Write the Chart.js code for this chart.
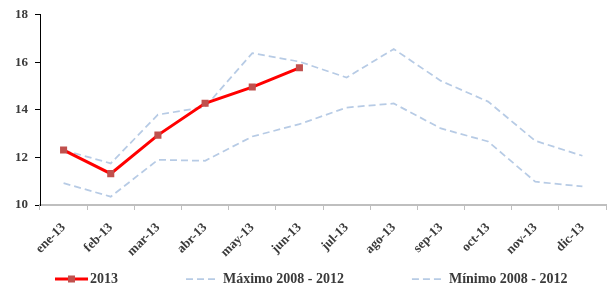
<!DOCTYPE html>
<html>
<head>
<meta charset="utf-8">
<script src="https://cdn.jsdelivr.net/npm/chart.js@4/dist/chart.umd.min.js"></script>
<style>
html,body{margin:0;padding:0;background:#fff;}
#wrap{position:relative;width:613px;height:289px;}
</style>
</head>
<body>
<div id="wrap"><canvas id="c" width="613" height="289"></canvas></div>
<script>
const categories = ['ene-13','feb-13','mar-13','abr-13','may-13','jun-13','jul-13','ago-13','sep-13','oct-13','nov-13','dic-13'];
const serie2013 = [12.31, 11.32, 12.94, 14.28, 14.96, 15.77, null, null, null, null, null, null];
const maximo = [12.31, 11.75, 13.80, 14.12, 16.39, 16.03, 15.36, 16.56, 15.22, 14.35, 12.70, 12.07];
const minimo = [10.92, 10.35, 11.90, 11.86, 12.88, 13.40, 14.10, 14.27, 13.22, 12.67, 10.98, 10.78];
const yTicks = [10, 12, 14, 16, 18];
const seriesNames = ['2013', 'Máximo 2008 - 2012', 'Mínimo 2008 - 2012'];

const FONT = "'Liberation Serif', 'Times New Roman', serif";
const TXT = '#3a3a3a';
const RED = '#ff0000';
const MARK = '#c0504d';
const BLUE = '#b7cbe5';

const LEG_PAD = 10, LEG_W = 88, LEG_FS = 14;
const ICON_W = LEG_W + LEG_FS;
function makeIcon(kind) {
  const c = document.createElement('canvas');
  c.width = ICON_W; c.height = 14;
  const g = c.getContext('2d');
  const cy = 7;
  if (kind === 'red') {
    const x0 = ICON_W - 35, x1 = ICON_W - 2;
    g.strokeStyle = RED; g.lineWidth = 3;
    g.beginPath(); g.moveTo(x0, cy); g.lineTo(x1, cy); g.stroke();
    const mx = (x0 + x1) / 2;
    g.fillStyle = MARK; g.fillRect(mx - 3.5, cy - 3.5, 7, 7);
  } else {
    const x0 = ICON_W - 37, x1 = ICON_W - 7;
    g.strokeStyle = BLUE; g.lineWidth = 1.75; g.setLineDash([7, 4]);
    g.beginPath(); g.moveTo(x0, cy); g.lineTo(x1, cy); g.stroke();
  }
  return c;
}
const icons = [makeIcon('red'), makeIcon('blue'), makeIcon('blue')];

new Chart(document.getElementById('c'), {
  type: 'line',
  data: {
    labels: categories,
    datasets: [
      { label: seriesNames[0], data: serie2013, borderColor: RED, borderWidth: 3, backgroundColor: MARK,
        pointStyle: 'rect', pointRadius: 5, pointBackgroundColor: MARK, pointBorderColor: MARK, pointBorderWidth: 0,
        tension: 0, spanGaps: false },
      { label: seriesNames[1], data: maximo, borderColor: BLUE, borderWidth: 1.75, borderDash: [7, 4],
        pointRadius: 0, tension: 0, fill: false },
      { label: seriesNames[2], data: minimo, borderColor: BLUE, borderWidth: 1.75, borderDash: [7, 4],
        pointRadius: 0, tension: 0, fill: false }
    ]
  },
  options: {
    responsive: false,
    animation: false,
    events: [],
    layout: { padding: { top: 14, right: 7, bottom: -7, left: -15 } },
    plugins: {
      tooltip: { enabled: false },
      legend: {
        position: 'bottom',
        align: 'start',
        labels: {
          usePointStyle: true,
          pointStyleWidth: LEG_W,
          padding: LEG_PAD,
          color: TXT,
          font: { family: FONT, size: LEG_FS, weight: 'bold' },
          generateLabels: (chart) => chart.data.datasets.map((ds, i) => ({
            text: ds.label, pointStyle: icons[i], fillStyle: 'transparent', strokeStyle: 'transparent',
            lineWidth: 0, hidden: false, datasetIndex: i, fontColor: TXT
          }))
        }
      }
    },
    scales: {
      x: {
        type: 'category',
        offset: true,
        grid: { display: true, drawOnChartArea: false, drawTicks: true, tickLength: 5, color: '#bfbfbf', offset: true },
        border: { display: true, color: '#bfbfbf', width: 2 },
        ticks: { color: TXT, font: { family: FONT, size: 13, weight: 'bold' }, maxRotation: 45, minRotation: 45, padding: 10, autoSkip: false },
        afterFit: (s) => { s.height = 57; }
      },
      y: {
        min: 10, max: 18,
        afterBuildTicks: (s) => { s.ticks = yTicks.map(v => ({ value: v })); },
        grid: { display: true, drawOnChartArea: false, drawTicks: true, tickLength: 5, color: '#000' },
        border: { display: true, color: '#000', width: 1 },
        ticks: { color: TXT, font: { family: FONT, size: 13, weight: 'bold' }, padding: 7 },
        afterFit: (s) => { s.width = 55; }
      }
    }
  }
});
</script>
</body>
</html>
